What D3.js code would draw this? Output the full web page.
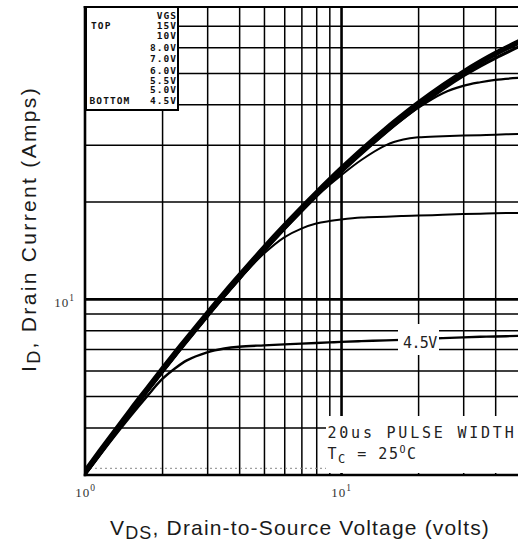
<!DOCTYPE html>
<html><head><meta charset="utf-8">
<script src="https://cdn.jsdelivr.net/npm/d3@7"></script>
<style>body{margin:0;background:#fff} svg{display:block}</style>
</head><body><svg id="c" width="518" height="546"></svg>
<script>
// ---------- data ----------
const vds   = [1, 1.25, 1.5, 1.75, 2, 2.25, 2.5, 3, 3.5, 4, 5, 6, 7, 8, 9, 10, 12, 15, 17.5, 20, 25, 30, 35, 40, 50];
const id15V = [2.96, 3.76, 4.56, 5.34, 6.12, 6.89, 7.64, 9.11, 10.54, 11.91, 14.54, 17.0, 19.31, 21.49, 23.55, 25.5, 29.11, 33.92, 37.45, 40.64, 46.12, 50.73, 54.61, 57.93, 63.24];
const id10V = [2.93, 3.72, 4.51, 5.29, 6.06, 6.82, 7.56, 9.02, 10.43, 11.8, 14.39, 16.84, 19.12, 21.28, 23.32, 25.25, 28.83, 33.58, 37.09, 40.24, 45.67, 50.24, 54.08, 57.36, 62.62];
const id8V  = [2.90, 3.69, 4.47, 5.24, 6.00, 6.75, 7.49, 8.93, 10.33, 11.68, 14.25, 16.67, 18.93, 21.07, 23.09, 25.0, 28.54, 33.25, 36.72, 39.84, 45.22, 49.74, 53.54, 56.79, 62.0];
const id7V  = [2.86, 3.63, 4.4, 5.16, 5.91, 6.65, 7.38, 8.8, 10.18, 11.5, 14.04, 16.42, 18.65, 20.75, 22.74, 24.63, 28.11, 32.75, 36.17, 39.24, 44.5, 48.9, 52.5, 55.5, 60.5];
const id6V  = [2.86, 3.63, 4.4, 5.16, 5.91, 6.65, 7.38, 8.8, 10.18, 11.5, 14.04, 16.42, 18.65, 20.75, 22.74, 24.63, 28.11, 32.75, 36.1, 39.0, 43.3, 45.6, 46.8, 47.6, 48.3];
const id55V = [2.86, 3.63, 4.4, 5.16, 5.91, 6.65, 7.38, 8.8, 10.18, 11.5, 14.04, 16.42, 18.65, 20.75, 22.5, 24.1, 26.9, 29.9, 31.1, 31.6, 31.85, 32.0, 32.1, 32.2, 32.4];
const id5V  = [2.86, 3.63, 4.4, 5.16, 5.91, 6.65, 7.38, 8.8, 10.18, 11.5, 13.8, 15.5, 16.5, 17.1, 17.4, 17.6, 17.85, 17.95, 18.05, 18.1, 18.2, 18.3, 18.35, 18.4, 18.45];
const id45V = [2.85, 3.6, 4.32, 5.0, 5.64, 6.1, 6.45, 6.83, 7.02, 7.11, 7.18, 7.23, 7.27, 7.3, 7.33, 7.36, 7.4, 7.44, 7.47, 7.5, 7.56, 7.6, 7.63, 7.65, 7.68];

const legendLabels = ["15V", "10V", "8.0V", "7.0V", "6.0V", "5.5V", "5.0V", "4.5V"];
const xGridValues = [2, 3, 4, 5, 6, 7, 8, 9, 10, 20, 30, 40];
const yGridValues = [3, 4, 5, 6, 7, 8, 9, 10, 20, 30, 40, 50, 60, 70];
const xTickValues = [1, 10];
const yTickValues = [10];

// ---------- scales ----------
const L = 85, R = 520, T = 7, B = 475;
const x = d3.scaleLog().domain([1, 50]).range([L, R]);
const y = d3.scaleLog().domain([2.85, 80]).range([B, T]);

const svg = d3.select("#c");

// ---------- grid ----------
const gx = svg.append("g").attr("transform", `translate(0,${B})`)
  .call(d3.axisBottom(x).tickValues(xGridValues).tickSize(-(B - T)).tickFormat(""));
gx.select(".domain").remove();
gx.selectAll(".tick line").attr("stroke", "#000")
  .attr("stroke-width", d => d === 10 ? 2.6 : 1.5);

const gy = svg.append("g").attr("transform", `translate(${L},0)`)
  .call(d3.axisLeft(y).tickValues(yGridValues).tickSize(-(R - L)).tickFormat(""));
gy.select(".domain").remove();
gy.selectAll(".tick line")
  .attr("stroke", d => d === 3 ? "#888" : "#000")
  .attr("stroke-dasharray", d => d === 3 ? "2,3" : null)
  .attr("stroke-width", d => d === 10 ? 2.6 : (d === 3 ? 1 : 1.5));

// white area behind the pulse-width note
svg.append("rect").attr("x", 326).attr("y", 416).attr("width", 200).attr("height", 57).attr("fill", "#fff");

// ---------- frame ----------
svg.append("line").attr("x1", L).attr("x2", L).attr("y1", T - 1).attr("y2", B + 1.3).attr("stroke", "#000").attr("stroke-width", 2.6);
svg.append("line").attr("x1", L - 1.3).attr("x2", R).attr("y1", B).attr("y2", B).attr("stroke", "#000").attr("stroke-width", 2.6);
svg.append("line").attr("x1", L - 1.3).attr("x2", R).attr("y1", T).attr("y2", T).attr("stroke", "#000").attr("stroke-width", 2);

// ---------- legend box ----------
svg.append("rect").attr("x", L + 1).attr("y", T).attr("width", 92).attr("height", 103)
  .attr("fill", "#fff").attr("stroke", "#000").attr("stroke-width", 2);
const legFont = "'DejaVu Sans Mono', monospace";
const legRows = [25, 35, 47.5, 58.5, 70, 80, 89.5, 100];
const lg = svg.append("g").attr("font-family", legFont).attr("font-size", 9.5).attr("font-weight", "bold")
  .attr("fill", "#111").attr("letter-spacing", 1.1);
lg.append("text").attr("x", 177.2).attr("y", 18.5).attr("text-anchor", "end").text("VGS");
lg.selectAll("text.v").data(legendLabels).join("text").attr("class", "v")
  .attr("x", 177.2).attr("y", (d, i) => legRows[i] + 3.5).attr("text-anchor", "end").text(d => d);
lg.append("text").attr("x", 91).attr("y", legRows[0] + 3.5).text("TOP");
lg.append("text").attr("x", 89.5).attr("y", legRows[7] + 3.5).text("BOTTOM");

// ---------- curves ----------
svg.append("clipPath").attr("id", "clip").append("rect")
  .attr("x", L).attr("y", T).attr("width", R - L).attr("height", B - T);
const series = [
  { name: "4.5V", values: id45V, w: 2.4 },
  { name: "5.0V", values: id5V,  w: 2.0 },
  { name: "5.5V", values: id55V, w: 2.0 },
  { name: "6.0V", values: id6V,  w: 2.2 },
  { name: "7.0V", values: id7V,  w: 3 },
  { name: "8.0V", values: id8V,  w: 3 },
  { name: "10V",  values: id10V, w: 3 },
  { name: "15V",  values: id15V, w: 3 }
];
const line = d3.line().x((d, i) => x(vds[i])).y(d => y(d)).curve(d3.curveCatmullRom.alpha(0.5));
svg.append("g").attr("clip-path", "url(#clip)")
  .selectAll("path").data(series).join("path")
  .attr("d", d => line(d.values)).attr("fill", "none")
  .attr("stroke", "#000").attr("stroke-width", d => d.w)
  .attr("stroke-linecap", "round").attr("stroke-linejoin", "round");

// ---------- curve label 4.5V ----------
svg.append("rect").attr("x", 398).attr("y", 324).attr("width", 41).attr("height", 31).attr("fill", "#fff");
svg.append("text").attr("x", 403).attr("y", 347.5)
  .attr("font-family", legFont).attr("font-size", 15).attr("letter-spacing", -0.6)
  .attr("fill", "#222").text("4.5V");

// ---------- note ----------
const note = svg.append("g").attr("font-family", legFont).attr("font-size", 15).attr("fill", "#222");
const n1 = note.append("text").attr("x", 327.5).attr("y", 437.5).text("20us PULSE WIDTH");
function fit(sel, target) {
  const n = sel.text().length;
  const w = sel.node().getComputedTextLength();
  sel.attr("letter-spacing", (target - w) / n);
}
fit(n1, 189);
const n2 = note.append("text").attr("x", 327.5).attr("y", 459).attr("letter-spacing", 1.5);
n2.append("tspan").text("T");
n2.append("tspan").attr("font-size", 12).attr("dy", 4).text("C");
n2.append("tspan").attr("dy", -4).text(" = 25");
n2.append("tspan").attr("font-size", 10).attr("dy", -6).text("O");
n2.append("tspan").attr("dy", 6).text("C");

// ---------- tick labels ----------
const tickFont = "'Liberation Serif', serif";
const xt = svg.append("g").attr("transform", `translate(0,${B})`)
  .call(d3.axisBottom(x).tickValues(xTickValues).tickSize(0).tickPadding(0).tickFormat(""));
xt.select(".domain").remove();
xt.selectAll(".tick").each(function (d) {
  const t = d3.select(this).append("text").attr("fill", "#333").attr("font-family", tickFont)
    .attr("font-size", 13).attr("letter-spacing", 1).attr("text-anchor", "middle").attr("y", 22);
  t.append("tspan").text("10");
  t.append("tspan").attr("font-size", 9.5).attr("dy", -6).text(Math.round(Math.log10(d)));
});
const yt = svg.append("g").attr("transform", `translate(${L},0)`)
  .call(d3.axisLeft(y).tickValues(yTickValues).tickSize(0).tickPadding(0).tickFormat(""));
yt.select(".domain").remove();
yt.selectAll(".tick").each(function (d) {
  const t = d3.select(this).append("text").attr("fill", "#333").attr("font-family", tickFont)
    .attr("font-size", 13).attr("letter-spacing", 1).attr("text-anchor", "end").attr("x", -10).attr("y", 8);
  t.append("tspan").text("10");
  t.append("tspan").attr("font-size", 9.5).attr("dy", -6).text(Math.round(Math.log10(d)));
});

// ---------- axis titles ----------
const titleFont = "'Liberation Sans', Arial, sans-serif";
const xTitle = svg.append("text").attr("x", 110).attr("y", 535)
  .attr("font-family", titleFont).attr("font-size", 21).attr("fill", "#1a1a1a");
xTitle.append("tspan").text("V");
xTitle.append("tspan").attr("font-size", 18).attr("dy", 4).text("DS");
xTitle.append("tspan").attr("dy", -4).text(", Drain-to-Source Voltage (volts)");
fit(xTitle, 380);

const yTitle = svg.append("text").attr("transform", "translate(36,372) rotate(-90)")
  .attr("font-family", titleFont).attr("font-size", 21).attr("fill", "#1a1a1a");
yTitle.append("tspan").text("I");
yTitle.append("tspan").attr("font-size", 18).attr("dy", 4).text("D");
yTitle.append("tspan").attr("dy", -4).text(", Drain Current (Amps)");
fit(yTitle, 286);
</script>
</body></html>
